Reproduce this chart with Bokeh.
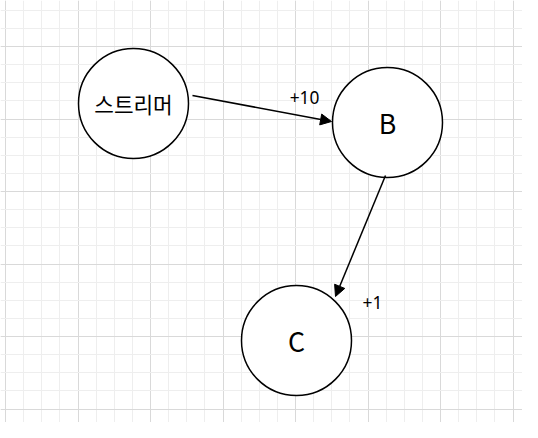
from bokeh.plotting import figure
from bokeh.models import Arrow, NormalHead, FixedTicker, Range1d
from bokeh.embed import file_html
from bokeh.resources import INLINE

nodes = ["스트리머", "B", "C"]
node_x = [133, 387, 296]
node_y = [103, 122, 340]
node_r = 55
edges = [(0, 1, "+10"), (1, 2, "+1")]
edge_start = [(192, 95), (385, 175)]
edge_end = [(331, 121), (335, 296)]
label_pos = [(304, 97), (372, 302)]

# page offset of 8px: data coordinates = reference pixel coordinates
p = figure(width=522, height=422, output_backend="svg", toolbar_location=None,
           x_range=Range1d(8, 530), y_range=Range1d(430, 8), min_border=0)
p.x_range.start, p.x_range.end = 8 - 0, 530
p.x_range = Range1d(0, 522)
p.y_range = Range1d(422, 0)
p.xaxis.visible = False
p.yaxis.visible = False
p.outline_line_color = None

major_x = [5 + 72.5 * i for i in range(9)]
major_y = [46 - 72.5 + 72.5 * i for i in range(8)]
minor_x = [5 - 72.5 + 18.125 * i for i in range(40)]
minor_y = [46 - 72.5 + 18.125 * i for i in range(40)]
for g, maj, mn in ((p.xgrid, major_x, minor_x), (p.ygrid, major_y, minor_y)):
    g.ticker = FixedTicker(ticks=maj, minor_ticks=mn)
    g.grid_line_color = "#d9d9d9"
    g.minor_grid_line_color = "#eeeeee"

p.circle(node_x, node_y, radius=node_r, fill_color="white", line_color="black", line_width=1.5)
for i, name in enumerate(nodes):
    size = "16pt" if i == 0 else "20pt"
    p.text([node_x[i]], [node_y[i]], text=[name], text_align="center", text_baseline="middle",
           text_font_size=size, text_font={"value": "Noto Sans CJK KR"})

for (sx, sy), (ex, ey), (lx, ly), (_, _, lab) in zip(edge_start, edge_end, label_pos, edges):
    p.add_layout(Arrow(end=NormalHead(size=11, fill_color="black", line_color="black"),
                       x_start=sx, y_start=sy, x_end=ex, y_end=ey, line_width=1.5))
    p.text([lx], [ly], text=[lab], text_align="center", text_baseline="middle",
           text_font_size="13pt", text_font={"value": "Noto Sans"})

open("out.html", "w").write(file_html(p, INLINE))
